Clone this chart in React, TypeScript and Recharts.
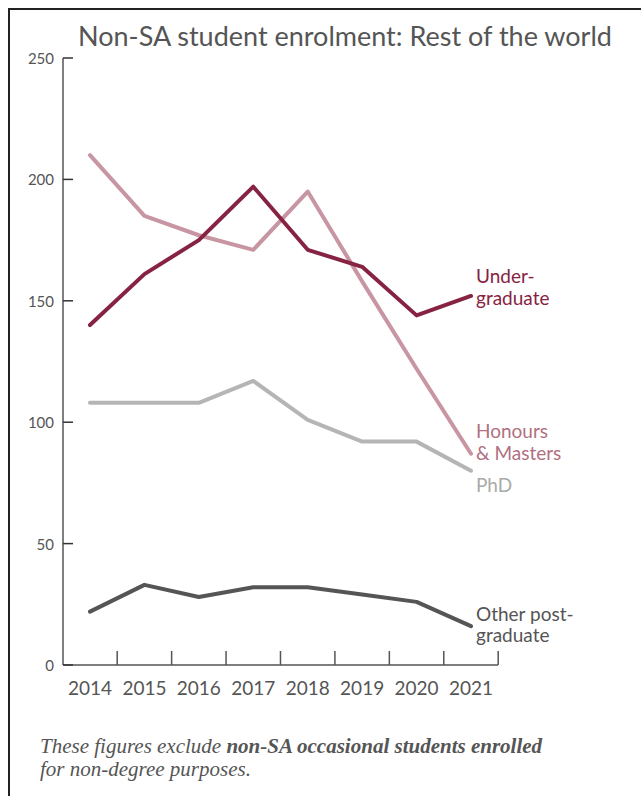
import React from "react";
import { LineChart, Line, XAxis, YAxis } from "recharts";

const years = ["2014", "2015", "2016", "2017", "2018", "2019", "2020", "2021"];
const undergraduate = [140, 161, 175, 197, 171, 164, 144, 152];
const honoursMasters = [210, 185, 177, 171, 195, 158, 122, 87];
const phd = [108, 108, 108, 117, 101, 92, 92, 80];
const otherPostgrad = [22, 33, 28, 32, 32, 29, 26, 16];
const yTicks = [0, 50, 100, 150, 200, 250];

const data = years.map((year, i) => ({
  year,
  ug: undergraduate[i],
  hm: honoursMasters[i],
  phd: phd[i],
  other: otherPostgrad[i],
}));

const FONT = "Lato, 'Open Sans', sans-serif";
const AXIS = "#555";

const XTick = ({ x, y, payload }: any) => (
  <g>
    <line x1={x + 27.2} y1={y} x2={x + 27.2} y2={y - 14} stroke={AXIS} strokeWidth={1.5} />
    <text x={x} y={y + 22} textAnchor="middle" dominantBaseline="central" fill="#555" fontSize={19} fontFamily={FONT}>
      {payload.value}
    </text>
  </g>
);

const YTick = ({ x, y, payload }: any) => (
  <g>
    <line x1={x} y1={y} x2={x + 10} y2={y} stroke="#333" strokeWidth={1.5} />
    <text x={x - 9} y={y} textAnchor="end" dominantBaseline="central" fill="#555" fontSize={15} fontFamily={FONT}>
      {payload.value}
    </text>
  </g>
);

// text beside the last point of a series
const endLabel = (lines: string[], offsets: number[], color: string) => (props: any) => {
  const { x, y, index } = props;
  if (index !== years.length - 1) return null;
  return (
    <g>
      {lines.map((t, i) => (
        <text key={i} x={x + 5} y={y + offsets[i]} dominantBaseline="central" fill={color} fontSize={19} fontFamily={FONT}>
          {t}
        </text>
      ))}
    </g>
  );
};

export default function App() {
  return (
    <div style={{ position: "absolute", left: 0, top: 0, width: 641, height: 796, background: "#fff", overflow: "hidden" }}>
      <div style={{ position: "absolute", left: 8, top: 8, width: 700, height: 800, borderTop: "2px solid #222", borderLeft: "2px solid #222" }} />
      <div style={{ position: "absolute", left: 0, top: 19, width: 690, textAlign: "center", fontFamily: FONT, fontSize: 27, color: "#555" }}>
        Non-SA student enrolment: Rest of the world
      </div>
      <div style={{ position: "absolute", left: 0, top: 0 }}>
        <LineChart width={641} height={796} data={data} margin={{ top: 58, right: 143, bottom: 91, left: 0 }}>
          <XAxis
            dataKey="year"
            height={40}
            padding={{ left: 27, right: 27 }}
            tickSize={0}
            tickMargin={0}
            tickLine={false}
            axisLine={{ stroke: AXIS, strokeWidth: 1.5 }}
            tick={<XTick />}
            interval={0}
          />
          <YAxis
            width={63}
            domain={[0, 250]}
            ticks={yTicks}
            tickSize={0}
            tickMargin={0}
            tickLine={false}
            axisLine={{ stroke: AXIS, strokeWidth: 1.5 }}
            tick={<YTick />}
          />
          <Line dataKey="other" stroke="#555" strokeWidth={4} dot={false} isAnimationActive={false} strokeLinejoin="round" strokeLinecap="round"
            label={endLabel(["Other post-", "graduate"], [-13, 8], "#555")} />
          <Line dataKey="phd" stroke="#b5b5b5" strokeWidth={4} dot={false} isAnimationActive={false} strokeLinejoin="round" strokeLinecap="round"
            label={endLabel(["PhD"], [14], "#aaa")} />
          <Line dataKey="hm" stroke="#c895a3" strokeWidth={4} dot={false} isAnimationActive={false} strokeLinejoin="round" strokeLinecap="round"
            label={endLabel(["Honours", "& Masters"], [-23, -1], "#b0707f")} />
          <Line dataKey="ug" stroke="#862242" strokeWidth={4} dot={false} isAnimationActive={false} strokeLinejoin="round" strokeLinecap="round"
            label={endLabel(["Under-", "graduate"], [-20, 2], "#862242")} />
        </LineChart>
      </div>
      <div style={{ position: "absolute", left: 40, top: 735, width: 600, fontFamily: "'Liberation Serif', serif", fontStyle: "italic", fontSize: 21, lineHeight: "23px", color: "#555" }}>
        These figures exclude <b>non-SA occasional students enrolled</b>
        <br />
        for non-degree purposes.
      </div>
    </div>
  );
}
